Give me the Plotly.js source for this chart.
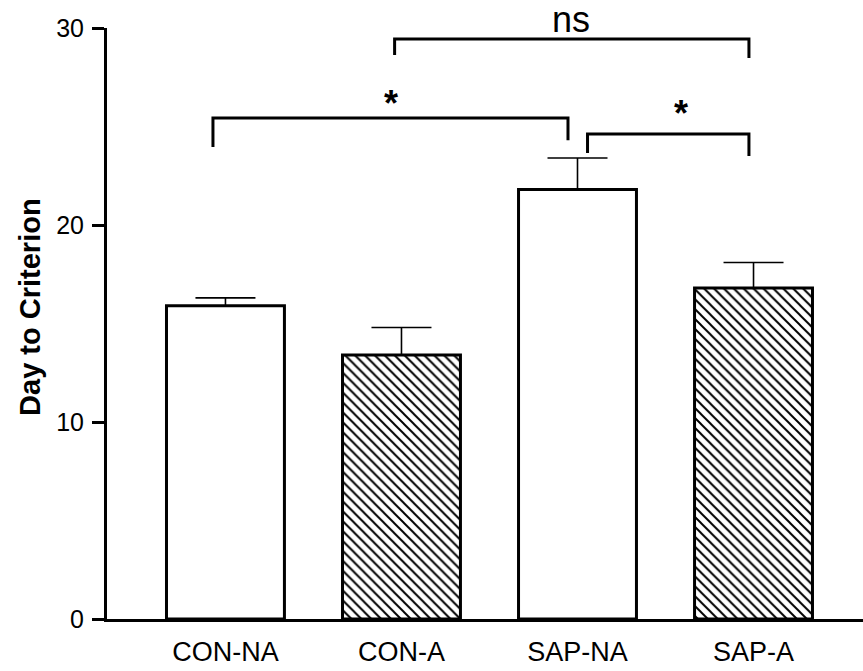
<!DOCTYPE html>
<html>
<head>
<meta charset="utf-8">
<script src="https://cdn.plot.ly/plotly-3.0.1.min.js"></script>
<style>html,body{margin:0;padding:0;background:#fff;}#chart{width:863px;height:671px;}</style>
</head>
<body>
<div id="chart"></div>
<script>
// ---- data ----
const categories = ['CON-NA', 'CON-A', 'SAP-NA', 'SAP-A'];
const means = [15.9, 13.4, 21.8, 16.8];
const sem = [0.4, 1.4, 1.6, 1.3];
const hatched = [false, true, false, true];
const yTicks = [0, 10, 20, 30];
const yTitle = 'Day to Criterion';
// comparisons: [from index, to index, label]
const compFrom = [0, 2, 1];
const compTo = [2, 3, 3];
const compLabel = ['*', '*', 'ns'];

const font = 'Liberation Sans, Arial, Helvetica, sans-serif';
const xIdx = categories.map((c, i) => i);

const trace = {
  type: 'bar',
  x: xIdx,
  y: means,
  width: 0.67,
  marker: {
    color: 'white',
    line: {color: 'black', width: 3},
    pattern: {
      shape: hatched.map(h => h ? '\\' : ''),
      fgcolor: 'black',
      bgcolor: 'white',
      size: 7,
      solidity: 0.28
    }
  },
  error_y: {
    type: 'data',
    symmetric: false,
    array: sem,
    arrayminus: sem.map(() => 0),
    color: 'black',
    thickness: 1.6,
    width: 30
  },
  hoverinfo: 'skip'
};

// bracket geometry (layout)
const brk = [
  {x0: -0.071, x1: 1.946, top: 25.43, b0: 23.96, b1: 24.3, lx: 0.94, ly: 25.04},
  {x0: 2.057, x1: 2.974, top: 24.62, b0: 23.65, b1: 23.5, lx: 2.588, ly: 24.54},
  {x0: 0.961, x1: 2.974, top: 29.44, b0: 28.63, b1: 28.48, lx: 1.963, ly: 29.3}
];
const shapes = [];
const annotations = [];
compLabel.forEach((lab, k) => {
  const g = brk[k];
  shapes.push({
    type: 'path', xref: 'x', yref: 'y',
    path: `M ${g.x0} ${g.b0} L ${g.x0} ${g.top} L ${g.x1} ${g.top} L ${g.x1} ${g.b1}`,
    line: {color: 'black', width: 3}
  });
  const isStar = lab === '*';
  annotations.push({
    x: g.lx, y: g.ly, xref: 'x', yref: 'y',
    text: isStar ? '<b>*</b>' : lab,
    showarrow: false,
    xanchor: 'center', yanchor: 'bottom',
    font: {family: font, size: 36, color: 'black'}
  });
});
// y-axis title as a rotated annotation
annotations.push({
  x: -0.1019, y: 0.528, xref: 'paper', yref: 'paper',
  text: '<b>' + yTitle + '</b>', textangle: -90, showarrow: false,
  xanchor: 'center', yanchor: 'middle',
  font: {family: font, size: 29, color: 'black'}
});

const layout = {
  width: 863, height: 671,
  margin: {l: 107, r: 0, t: 28, b: 52},
  paper_bgcolor: 'white', plot_bgcolor: 'white',
  showlegend: false,
  xaxis: {
    range: [-0.673, 3.622],
    tickvals: xIdx, ticktext: categories,
    ticks: '', showgrid: false, zeroline: false,
    showline: true, linecolor: 'black', linewidth: 3,
    tickfont: {family: font, size: 27, color: 'black'},
    ticklabelstandoff: 7,
    fixedrange: true
  },
  yaxis: {
    range: [0, 30],
    tickvals: yTicks, ticktext: yTicks.map(String),
    ticks: 'outside', ticklen: 12, tickwidth: 3, tickcolor: 'black',
    showgrid: false, zeroline: false,
    showline: true, linecolor: 'black', linewidth: 3,
    tickfont: {family: font, size: 25, color: 'black'},
    ticklabelstandoff: 3,
    automargin: false,
    fixedrange: true
  },
  shapes: shapes,
  annotations: annotations
};

Plotly.newPlot('chart', [trace], layout, {displayModeBar: false, staticPlot: true});
</script>
</body>
</html>
